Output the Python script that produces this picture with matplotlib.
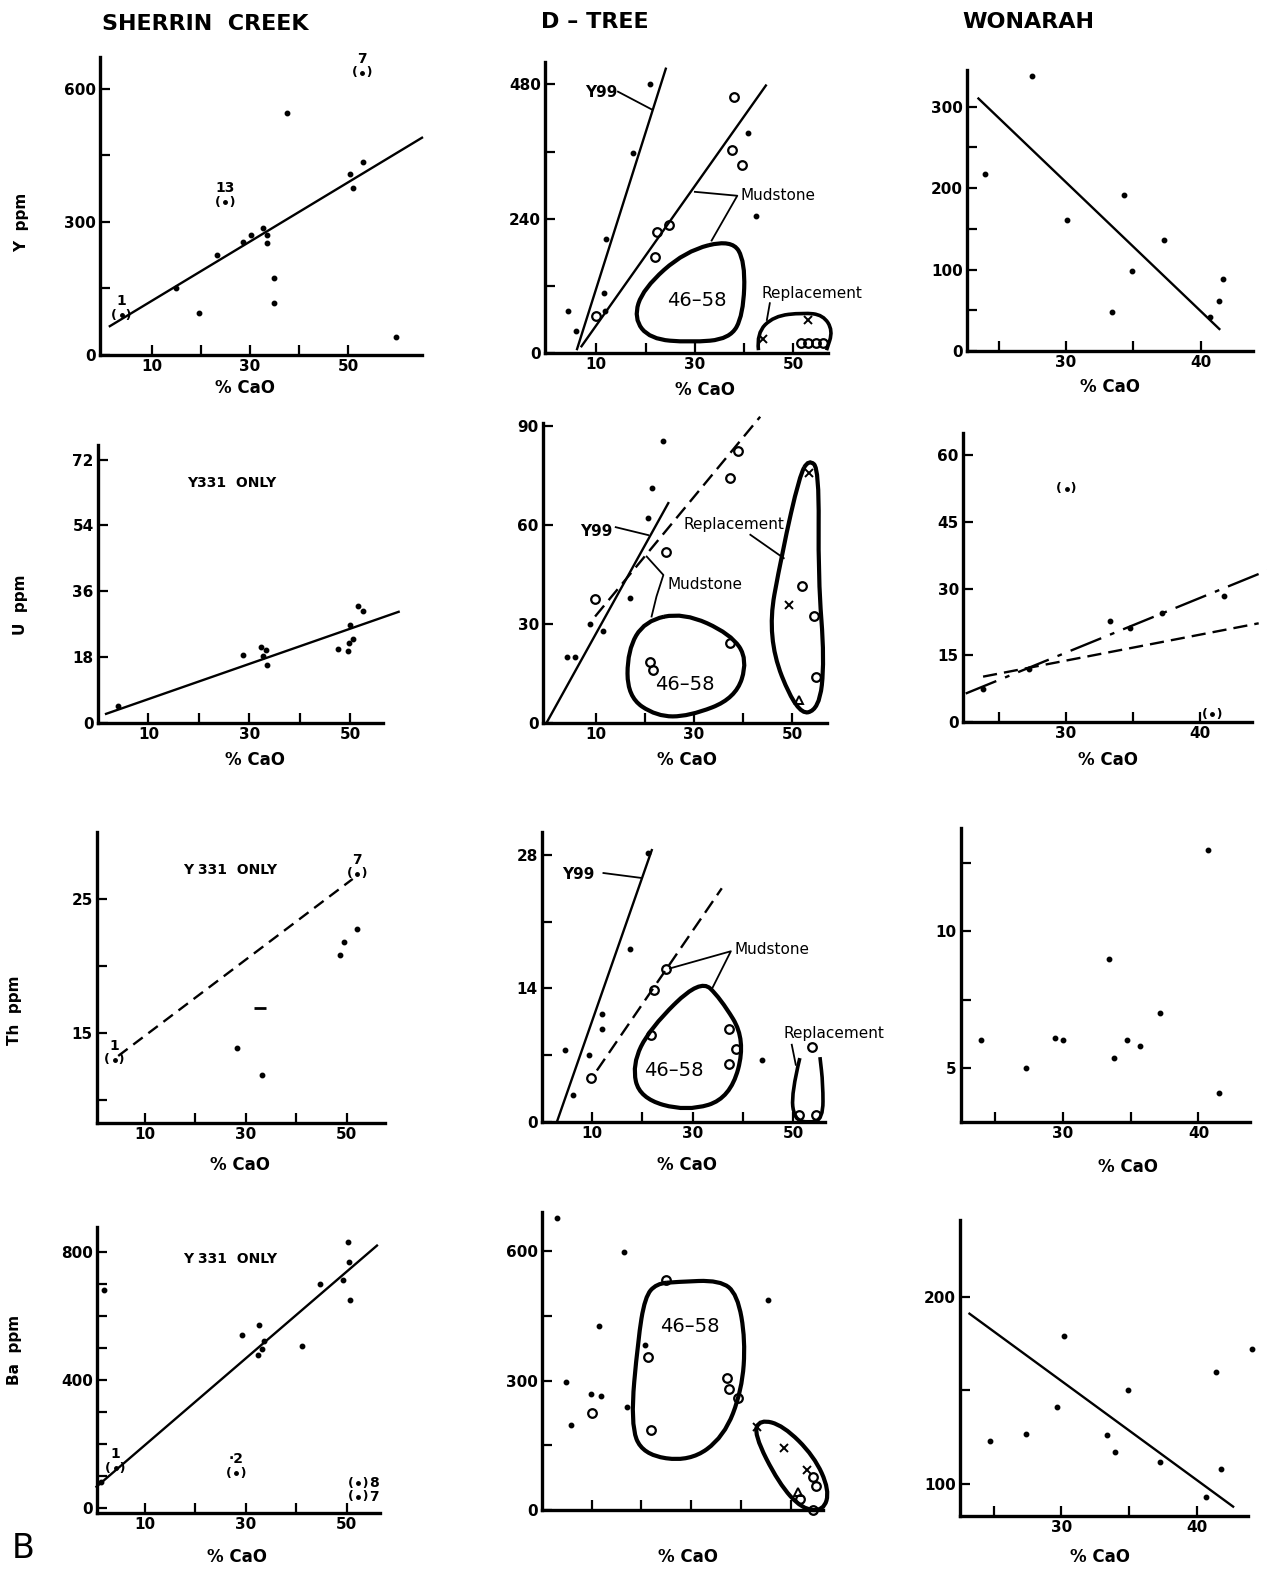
import numpy as np
import matplotlib
matplotlib.use('Agg')
import matplotlib.pyplot as plt
from matplotlib.path import Path
from matplotlib.patches import PathPatch

W, H = 1267, 1574

# ---- Y ppm ----
sc_y_cao = [15, 19.6, 23.3, 28.6, 30.2, 32.6, 33.4, 33.4, 34.8, 34.9, 37.5, 50.4, 51, 53, 59.7]
sc_y_ppm = [151, 95, 225, 255, 270, 286, 270, 253, 174, 117, 546, 408, 376, 435, 41]
sc_y_brk_cao = [3.9, 24.9, 52.8]
sc_y_brk_ppm = [90, 345, 636]
sc_y_brk_lab = ['1', '13', '7']
sc_y_fit_cao = [1.5, 65]
sc_y_fit_ppm = [65, 490]

dt_y_dot_cao = [20.9, 17.4, 12, 11.6, 4.3, 5.9, 11.8, 40.8, 42.4]
dt_y_dot_ppm = [480, 357, 203, 108, 75, 39, 75, 393, 245]
dt_y_mud_cao = [37.9, 37.5, 39.5, 24.8, 22.3, 21.9, 9.9]
dt_y_mud_ppm = [458, 363, 336, 229, 217, 171, 66]
dt_y_rep_o_cao = [51.5, 53, 54.5, 56]
dt_y_rep_o_ppm = [18, 18, 18, 18]
dt_y_rep_x_cao = [53, 43.8]
dt_y_rep_x_ppm = [59, 25]
dt_y_y99_cao = [6.1, 24.1]
dt_y_y99_ppm = [7, 508]
dt_y_mfit_cao = [7, 44.4]
dt_y_mfit_ppm = [12, 478]

wn_y_cao = [27.5, 24, 30.1, 34.3, 37.3, 34.9, 33.4, 41.7, 41.4, 40.7]
wn_y_ppm = [338, 217, 161, 192, 136, 98, 48, 89, 62, 42]
wn_y_fit_cao = [23.5, 41.4]
wn_y_fit_ppm = [310, 27]

# ---- U ppm ----
sc_u_cao = [4, 28.7, 32.3, 33.4, 32.7, 33.5, 50, 50.5, 49.7, 49.5, 47.5, 51.6, 52.6]
sc_u_ppm = [4.7, 18.6, 20.9, 20, 18.2, 15.9, 26.8, 22.9, 21.8, 19.8, 20.2, 32, 30.7]
sc_u_fit_cao = [1.6, 59.6]
sc_u_fit_ppm = [2.5, 30.4]

dt_u_dot_cao = [23.8, 21.4, 20.7, 17, 8.8, 4.1, 5.8, 11.6]
dt_u_dot_ppm = [85.6, 71.4, 62.3, 37.9, 30, 19.9, 19.9, 27.8]
dt_u_mud_cao = [38.9, 37.4, 24.3, 9.9, 37.3, 21.1, 21.7]
dt_u_mud_ppm = [82.5, 74.2, 52, 37.7, 24.2, 18.5, 16.2]
dt_u_rep_o_cao = [52, 54.4, 54.8]
dt_u_rep_o_ppm = [41.7, 32.6, 13.9]
dt_u_rep_x_cao = [49.3, 53.4]
dt_u_rep_x_ppm = [35.8, 75.8]
dt_u_rep_t_cao = [51.3]
dt_u_rep_t_ppm = [7.1]
dt_u_y99_cao = [0, 24.8]
dt_u_y99_ppm = [0, 66.7]
dt_u_mfit_cao = [9.9, 43.5]
dt_u_mfit_ppm = [32.3, 92.9]

wn_u_cao = [33.3, 41.8, 23.8, 27.2, 34.8, 37.2]
wn_u_ppm = [22.8, 28.4, 7.5, 12, 21.1, 24.5]
wn_u_brk_cao = [30.05, 40.9]
wn_u_brk_ppm = [52.5, 1.7]
wn_u_fit1_cao = [22.5, 45.3]
wn_u_fit1_ppm = [6.4, 34.4]
wn_u_fit2_cao = [23.8, 44.4]
wn_u_fit2_ppm = [10.2, 22.2]

# ---- Th ppm ----
sc_th_cao = [28.2, 33.2, 48.7, 49.5, 52]
sc_th_ppm = [13.9, 11.9, 20.8, 21.8, 22.8]
sc_th_dash_cao = [32.8]
sc_th_dash_ppm = [16.9]
sc_th_brk_cao = [4, 52]
sc_th_brk_ppm = [13, 26.9]
sc_th_brk_lab = ['1', '7']
sc_th_fit_cao = [4.7, 51.2]
sc_th_fit_ppm = [13.3, 26.5]

dt_th_dot_cao = [21.2, 17.6, 12, 12, 4.7, 9.5, 6.3, 43.7]
dt_th_dot_ppm = [28.2, 18.1, 11.3, 9.8, 7.6, 7, 2.8, 6.5]
dt_th_mud_cao = [24.7, 22.4, 21.7, 9.9, 37.2, 38.6, 37.2]
dt_th_mud_ppm = [16, 13.8, 9.1, 4.6, 9.7, 7.7, 6.1]
dt_th_rep_o_cao = [53.8, 51.2, 54.5]
dt_th_rep_o_ppm = [7.9, 0.7, 0.7]
dt_th_y99_cao = [3.05, 21.9]
dt_th_y99_ppm = [0, 28.5]
dt_th_mfit_cao = [11, 35.8]
dt_th_mfit_ppm = [5.4, 24.5]

wn_th_cao = [40.7, 33.4, 37.2, 24, 29.4, 30, 34.7, 35.7, 33.8, 27.3, 41.5]
wn_th_ppm = [13, 9, 7, 6, 6.1, 6, 6, 5.8, 5.35, 5, 4.06]

# ---- Ba ppm ----
sc_ba_cao = [50.2, 49.3, 50.7, 44.7, 50.5, 32.7, 29.2, 33.6, 33.3, 32.4, 41.1, 1.9, 1.3]
sc_ba_ppm = [830, 713, 649, 701, 768, 573, 542, 522, 498, 478, 506, 680, 83]
sc_ba_brk_cao = [4.2, 28.1, 52.3, 52.3]
sc_ba_brk_ppm = [125, 109, 78, 36]
sc_ba_fit_cao = [0.4, 56]
sc_ba_fit_ppm = [67, 820]

dt_ba_dot_cao = [3, 16.5, 11.5, 4.8, 9.8, 11.8, 17.1, 5.8, 20.7, 45.5]
dt_ba_dot_ppm = [676, 598, 426, 296, 270, 264, 239, 198, 382, 488]
dt_ba_mud_cao = [24.9, 21.4, 10, 22, 37.1, 37.6, 39.4]
dt_ba_mud_ppm = [534, 355, 226, 185, 307, 280, 259]
dt_ba_rep_o_cao = [54.4, 51.8, 55, 54.4]
dt_ba_rep_o_ppm = [0, 25, 56, 76]
dt_ba_rep_t_cao = [51.5]
dt_ba_rep_t_ppm = [42]
dt_ba_rep_x_cao = [43.3, 48.6, 53.2]
dt_ba_rep_x_ppm = [192, 143, 93]

wn_ba_cao = [30.2, 34.9, 29.7, 24.7, 27.4, 33.4, 34, 37.3, 41.8, 40.7, 41.4, 44.1]
wn_ba_ppm = [179, 150, 141, 123, 127, 126, 117, 112, 108, 93, 160, 172]
wn_ba_fit_cao = [23.2, 42.7]
wn_ba_fit_ppm = [191, 88]

# outlines of the grouped fields (CaO, ppm)
dt_y_field = [(37.5, 203), (40.2, 163), (39.8, 68), (37.1, 25), (29, 19), (20.9, 25),
              (17.6, 62), (19.5, 115), (28, 182)]
dt_y_repl = [(42.9, 5), (42.5, 35), (46, 66), (52, 72), (56, 68), (58, 40), (56.7, 5)]
dt_u_field = [(27.9, 33.5), (37.5, 27), (41, 19.2), (38.5, 7.5), (29, 2), (22.4, 2),
              (16.5, 8), (16.5, 22), (20, 31)]
dt_u_repl = [(53.4, 80), (55.5, 77), (55.3, 44), (56.6, 19), (55.5, 4), (51, 2.5),
             (44.8, 26), (48, 52), (51.5, 75)]
dt_th_field = [(31.5, 15), (35.5, 13), (40.6, 8.6), (37.5, 2.5), (28.8, 1.1), (19.5, 2.5),
               (18, 6), (21.5, 9.8)]
dt_th_repl = [(51.3, 6.7), (49.6, 3), (50.2, 0.3), (53, -0.1), (55.9, 0.3), (55.9, 4), (55.3, 6.8)]
dt_ba_field = [(27.1, 529), (35.8, 533), (39.3, 500), (40.9, 394), (40.2, 278), (36.6, 170),
               (29.7, 112), (20.2, 128), (17.8, 201), (19.3, 394), (20.7, 494), (23, 525)]
dt_ba_repl = [(43.8, 210), (48.5, 196), (54.7, 125), (57.8, 46), (56.6, -2), (52.3, 2),
              (47.6, 62), (42.6, 176)]

plt.rcParams['font.family'] = ['DejaVu Sans']
plt.rcParams['font.weight'] = 'bold'

fig = plt.figure(figsize=(W / 100, H / 100), dpi=100)


def panel(l, r, t, b, xlim, ylim, yticks, yminor, xticks=(10, 30, 50), xminor=(20, 40), xlab=True):
    ax = fig.add_axes([l / W, 1 - b / H, (r - l) / W, (b - t) / H])
    ax.set_xlim(xlim)
    ax.set_ylim(ylim)
    for s in ('top', 'right'):
        ax.spines[s].set_visible(False)
    for s in ('left', 'bottom'):
        ax.spines[s].set_linewidth(2.4)
    ax.set_xticks(xticks)
    ax.set_xticks(xminor, minor=True)
    ax.set_yticks(yticks)
    ax.set_yticks(yminor, minor=True)
    ax.tick_params(which='both', direction='in', length=7, width=1.6, labelsize=11, pad=3)
    if not xlab:
        ax.set_xticklabels([])
    ax.patch.set_alpha(0)
    return ax


def dots(ax, x, y, ms=3.2):
    ax.plot(x, y, 'o', color='k', ms=ms, ls='none', clip_on=False)


def rings(ax, x, y):
    ax.plot(x, y, 'o', mfc='none', mec='k', ms=6.2, mew=1.6, ls='none', clip_on=False)


def crosses(ax, x, y):
    ax.plot(x, y, 'x', color='k', ms=5.5, mew=1.4, ls='none', clip_on=False)


def tris(ax, x, y):
    ax.plot(x, y, '^', mfc='none', mec='k', ms=5.5, mew=1.4, ls='none', clip_on=False)


def bracket(ax, x, y, lab=None, off=(0, 10)):
    for xi, yi in zip(x, y):
        ax.plot(xi, yi, 'o', color='k', ms=2.5, clip_on=False)
        ax.text(xi, yi, '(  )', ha='center', va='center', fontsize=9)
    if lab:
        for xi, yi, s in zip(x, y, lab):
            ax.annotate(s, (xi, yi), xytext=off, textcoords='offset points',
                        ha='center', va='center', fontsize=10)


def fit(ax, x, y, ls='-', lw=1.7):
    ax.plot(x, y, color='k', ls=ls, lw=lw, clip_on=False)


def field(ax, pts, closed=True, lw=3):
    p = np.asarray(pts, dtype=float)
    if closed:
        mids = (p + np.roll(p, -1, axis=0)) / 2
        verts = [mids[-1]]
        codes = [Path.MOVETO]
        for i in range(len(p)):
            verts += [p[i], mids[i]]
            codes += [Path.CURVE3, Path.CURVE3]
    else:
        verts = [p[0]]
        codes = [Path.MOVETO]
        for i in range(1, len(p) - 1):
            verts += [p[i], (p[i] + p[i + 1]) / 2]
            codes += [Path.CURVE3, Path.CURVE3]
        verts.append(p[-1])
        codes.append(Path.LINETO)
    ax.add_patch(PathPatch(Path(verts, codes), fill=False, lw=lw, ec='k', clip_on=False))


def lead(ax, x, y):
    ax.plot(x, y, color='k', lw=1.3, clip_on=False)


# ---------------- row 1 : Y ----------------
ax = panel(100, 422, 57, 355, (-0.5, 65), (0, 672), [0, 300, 600], [150, 450])
dots(ax, sc_y_cao, sc_y_ppm)
bracket(ax, sc_y_brk_cao, sc_y_brk_ppm, sc_y_brk_lab)
fit(ax, sc_y_fit_cao, sc_y_fit_ppm)

ax = panel(545, 828, 62, 353, (-0.4, 57), (0, 520), [0, 240, 480], [120, 360])
dots(ax, dt_y_dot_cao, dt_y_dot_ppm)
rings(ax, dt_y_mud_cao, dt_y_mud_ppm)
rings(ax, dt_y_rep_o_cao, dt_y_rep_o_ppm)
crosses(ax, dt_y_rep_x_cao, dt_y_rep_x_ppm)
fit(ax, dt_y_y99_cao, dt_y_y99_ppm)
fit(ax, dt_y_mfit_cao, dt_y_mfit_ppm)
field(ax, dt_y_field)
field(ax, dt_y_repl, closed=False, lw=2.6)
ax.text(7.7, 466, 'Y99', fontsize=11, va='center')
lead(ax, [14.4, 21.3], [467, 435])
ax.text(39.3, 281, 'Mudstone', fontsize=11, va='center', fontweight='normal')
lead(ax, [30, 38.6, 33.4], [288, 281, 201])
ax.text(43.5, 107, 'Replacement', fontsize=11, va='center', fontweight='normal')
lead(ax, [45.2, 44.6], [89, 59])
ax.text(30.4, 94, '46–58', fontsize=14, ha='center', va='center', fontweight='normal')

ax = panel(967, 1253, 70, 351, (22.65, 43.9), (0, 345), [0, 100, 200, 300], [50, 150, 250],
           xticks=(30, 40), xminor=(25, 35))
dots(ax, wn_y_cao, wn_y_ppm)
fit(ax, wn_y_fit_cao, wn_y_fit_ppm)

# ---------------- row 2 : U ----------------
ax = panel(98, 383, 445, 723, (0, 56.5), (0, 76), [0, 18, 36, 54, 72], [])
dots(ax, sc_u_cao, sc_u_ppm)
fit(ax, sc_u_fit_cao, sc_u_fit_ppm)
ax.text(17.6, 65.5, 'Y331  ONLY', fontsize=10, va='center')

ax = panel(543, 827, 423, 723, (-0.7, 57.1), (0, 91), [0, 30, 60, 90], [])
dots(ax, dt_u_dot_cao, dt_u_dot_ppm)
rings(ax, dt_u_mud_cao, dt_u_mud_ppm)
rings(ax, dt_u_rep_o_cao, dt_u_rep_o_ppm)
crosses(ax, dt_u_rep_x_cao, dt_u_rep_x_ppm)
tris(ax, dt_u_rep_t_cao, dt_u_rep_t_ppm)
fit(ax, dt_u_y99_cao, dt_u_y99_ppm)
fit(ax, dt_u_mfit_cao, dt_u_mfit_ppm, ls=(0, (6, 3)))
field(ax, dt_u_field)
field(ax, dt_u_repl)
ax.text(6.8, 58, 'Y99', fontsize=11, va='center')
lead(ax, [14.1, 20.7], [59.4, 57])
ax.text(27.9, 60.1, 'Replacement', fontsize=11, va='center', fontweight='normal')
lead(ax, [41.5, 48.3], [57.1, 50])
ax.text(24.6, 41.9, 'Mudstone', fontsize=11, va='center', fontweight='normal')
lead(ax, [20.4, 23.8, 22.4, 21.4], [50.5, 44.9, 38.4, 32.3])
ax.text(28.2, 11.6, '46–58', fontsize=14, ha='center', va='center', fontweight='normal')

ax = panel(963, 1252, 433, 722, (22.3, 43.9), (0, 65), [0, 15, 30, 45, 60], [],
           xticks=(30, 40), xminor=(25, 35))
dots(ax, wn_u_cao, wn_u_ppm)
bracket(ax, wn_u_brk_cao, wn_u_brk_ppm)
fit(ax, wn_u_fit1_cao, wn_u_fit1_ppm, ls=(0, (14, 4, 2, 4)))
fit(ax, wn_u_fit2_cao, wn_u_fit2_ppm, ls=(0, (6, 3)))

# ---------------- row 3 : Th ----------------
ax = panel(97, 385, 832, 1123, (0.5, 57.6), (8.3, 30), [15, 25], [10, 20])
dots(ax, sc_th_cao, sc_th_ppm)
ax.plot(sc_th_dash_cao, sc_th_dash_ppm, '_', color='k', ms=9, mew=2, ls='none')
bracket(ax, sc_th_brk_cao, sc_th_brk_ppm, sc_th_brk_lab)
fit(ax, sc_th_fit_cao, sc_th_fit_ppm, ls=(0, (5, 3)))
ax.text(17.6, 27.2, 'Y 331  ONLY', fontsize=10, va='center')

ax = panel(542, 825, 832, 1122, (0.1, 56.3), (0, 30.4), [0, 14, 28], [7, 21])
dots(ax, dt_th_dot_cao, dt_th_dot_ppm)
rings(ax, dt_th_mud_cao, dt_th_mud_ppm)
rings(ax, dt_th_rep_o_cao, dt_th_rep_o_ppm)
fit(ax, dt_th_y99_cao, dt_th_y99_ppm)
fit(ax, dt_th_mfit_cao, dt_th_mfit_ppm, ls=(0, (6, 3)))
field(ax, dt_th_field)
field(ax, dt_th_repl, closed=False, lw=2.6)
ax.text(4, 25.9, 'Y99', fontsize=11, va='center')
lead(ax, [12.3, 19.6], [26.1, 25.6])
ax.text(38.4, 18.1, 'Mudstone', fontsize=11, va='center', fontweight='normal')
lead(ax, [25.5, 37.6, 33.8], [16.1, 17.9, 13.9])
ax.text(48, 9.3, 'Replacement', fontsize=11, va='center', fontweight='normal')
lead(ax, [49.7, 50.5], [8.1, 6])
ax.text(26.2, 5.4, '46–58', fontsize=14, ha='center', va='center', fontweight='normal')

ax = panel(961, 1250, 828, 1122, (22.5, 43.8), (3.0, 13.8), [5, 10], [7.5, 12.5],
           xticks=(30, 40), xminor=(25, 35))
dots(ax, wn_th_cao, wn_th_ppm)

# ---------------- row 4 : Ba ----------------
ax = panel(97, 380, 1227, 1513, (0.5, 56.6), (-15, 878), [0, 400, 800],
           [100, 200, 300, 500, 600, 700])
dots(ax, sc_ba_cao, sc_ba_ppm)
bracket(ax, sc_ba_brk_cao[:2], sc_ba_brk_ppm[:2], ['1', '·2'])
bracket(ax, sc_ba_brk_cao[2:], sc_ba_brk_ppm[2:], ['8', '7'], off=(11, 0))
fit(ax, sc_ba_fit_cao, sc_ba_fit_ppm)
ax.text(17.6, 779, 'Y 331  ONLY', fontsize=10, va='center')

ax = panel(542, 823, 1212, 1510, (0, 56.5), (0, 691), [0, 300, 600], [150, 450],
           xticks=(10, 20, 30, 40, 50), xminor=[], xlab=False)
dots(ax, dt_ba_dot_cao, dt_ba_dot_ppm)
rings(ax, dt_ba_mud_cao, dt_ba_mud_ppm)
rings(ax, dt_ba_rep_o_cao, dt_ba_rep_o_ppm)
tris(ax, dt_ba_rep_t_cao, dt_ba_rep_t_ppm)
crosses(ax, dt_ba_rep_x_cao, dt_ba_rep_x_ppm)
field(ax, dt_ba_field)
field(ax, dt_ba_repl)
ax.text(29.7, 425, '46–58', fontsize=14, ha='center', va='center', fontweight='normal')

ax = panel(960, 1248, 1220, 1516, (22.5, 43.8), (83, 241), [100, 200], [150],
           xticks=(30, 40), xminor=(25, 35))
dots(ax, wn_ba_cao, wn_ba_ppm)
fit(ax, wn_ba_fit_cao, wn_ba_fit_ppm)

# ---------------- figure text ----------------
def ftext(x, y, s, **kw):
    fig.text(x / W, 1 - y / H, s, ha='center', va='center', **kw)


ftext(205, 24, 'SHERRIN  CREEK', fontsize=16)
ftext(595, 22, 'D – TREE', fontsize=16)
ftext(1028, 22, 'WONARAH', fontsize=16)

for (x, y) in [(245, 388), (705, 390), (1110, 387),
               (255, 760), (687, 760), (1108, 760),
               (240, 1165), (687, 1165), (1128, 1167),
               (237, 1557), (688, 1557), (1100, 1557)]:
    ftext(x, y, '% CaO', fontsize=12)

ftext(22, 222, 'Y  ppm', fontsize=11, rotation=90)
ftext(20, 605, 'U  ppm', fontsize=11, rotation=90)
ftext(15, 1010, 'Th  ppm', fontsize=11, rotation=90)
ftext(15, 1350, 'Ba  ppm', fontsize=11, rotation=90)
ftext(23, 1548, 'B', fontsize=24, fontweight='normal')

fig.savefig('out.png', dpi=100, facecolor='white')
